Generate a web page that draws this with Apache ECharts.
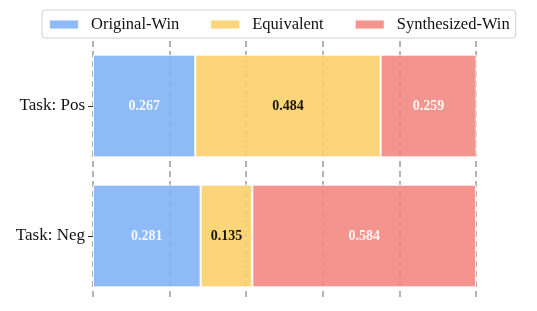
<!DOCTYPE html>
<html><head><meta charset="utf-8">
<script src="https://cdn.jsdelivr.net/npm/echarts@6/dist/echarts.min.js"></script>
<style>html,body{margin:0;padding:0;background:#fff}#c{width:537px;height:311px}</style>
</head><body><div id="c"></div>
<script>
var categories = ['Task: Neg', 'Task: Pos'];
var seriesNames = ['Original-Win', 'Equivalent', 'Synthesized-Win'];
var originalWin = [0.281, 0.267];
var equivalent = [0.135, 0.484];
var synthesizedWin = [0.584, 0.259];
var xTicks = [0, 0.2, 0.4, 0.6, 0.8, 1.0];

var colors = ['#82B2F6', '#FCCF6B', '#F28A82'];
var labelColors = ['#ffffff', '#000000', '#ffffff'];
var font = '"Liberation Serif", "DejaVu Serif", serif';
var values = [originalWin, equivalent, synthesizedWin];

var chart = echarts.init(document.getElementById('c'), null, {renderer: 'canvas'});
chart.setOption({
  animation: false,
  legend: {
    left: 42, top: 10,
    itemWidth: 30, itemHeight: 10, itemGap: 30,
    padding: [6, 6, 5, 6],
    borderColor: '#d0d0d0', borderWidth: 1, borderRadius: 3,
    textStyle: {fontFamily: font, fontSize: 16.5, color: '#111', padding: [0, 0, 0, 7]},
    data: seriesNames,
    icon: 'rect'
  },
  grid: {left: 93, width: 383, top: 41, height: 260, containLabel: false},
  xAxis: {
    type: 'value', min: xTicks[0], max: xTicks[xTicks.length - 1], interval: 0.2,
    axisLabel: {show: false}, axisLine: {show: false}, axisTick: {show: false},
    splitLine: {show: true, lineStyle: {color: '#9a9a9a', width: 1.5, type: [6, 4]}}
  },
  yAxis: {
    type: 'category', data: categories,
    axisLine: {show: false},
    axisTick: {show: true, alignWithLabel: true, length: 5, lineStyle: {color: '#333'}},
    axisLabel: {fontFamily: font, fontSize: 17, color: '#111', margin: 8}
  },
  series: seriesNames.map(function (n, i) {
    return {
      name: n, type: 'bar', stack: 'total', barWidth: '79%',
      data: values[i],
      itemStyle: {color: colors[i], opacity: 0.9, borderColor: '#ffffff', borderWidth: 1},
      label: {
        show: true, position: 'inside', fontFamily: font, fontSize: 14, fontWeight: 'bold',
        color: labelColors[i],
        formatter: function (p) { return p.value.toFixed(3); }
      }
    };
  })
});
</script></body></html>
